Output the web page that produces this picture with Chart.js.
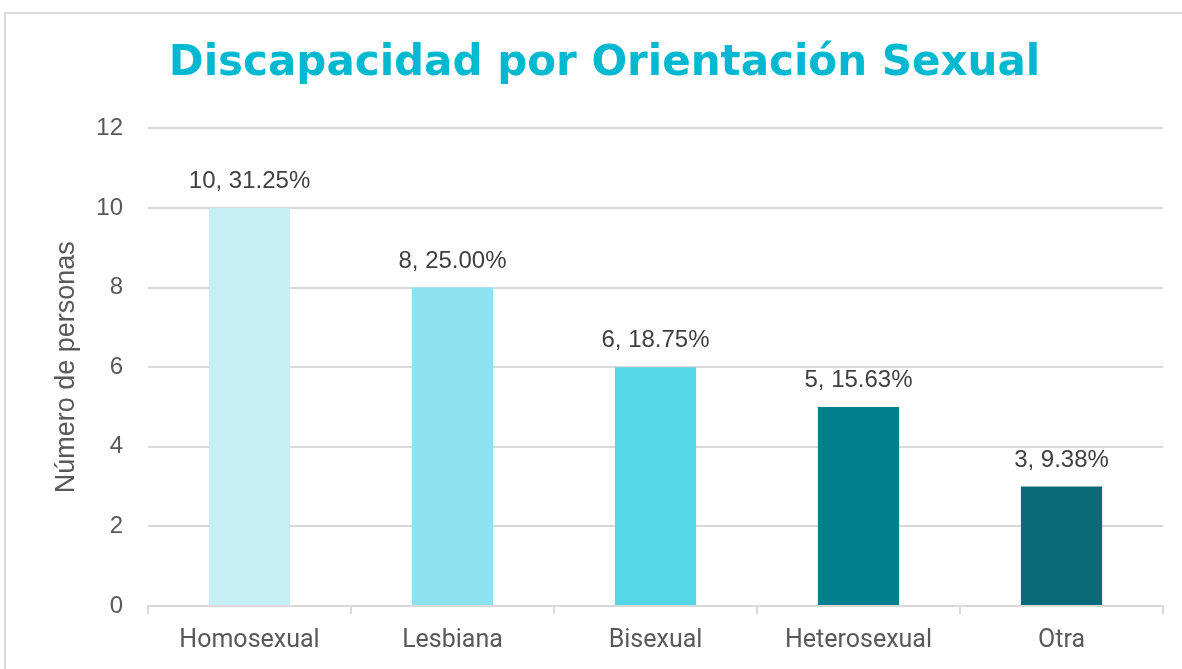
<!DOCTYPE html>
<html>
<head>
<meta charset="utf-8">
<script src="https://cdn.jsdelivr.net/npm/chart.js@4"></script>
<style>
  html, body { margin: 0; padding: 0; background: #fff; }
  #wrap { width: 1182px; height: 669px; position: relative; }
</style>
</head>
<body>
<div id="wrap"><canvas id="myChart" width="1182" height="669"></canvas></div>
<script>
// data
const categories = ['Homosexual', 'Lesbiana', 'Bisexual', 'Heterosexual', 'Otra'];
const personas = [10, 8, 6, 5, 3];
const porcentajes = ['31.25%', '25.00%', '18.75%', '15.63%', '9.38%'];
const barColors = ['#C5EFF5', '#8DE2EF', '#55D6E6', '#047F8E', '#096976'];
const yTicks = [0, 2, 4, 6, 8, 10, 12];

// outer frame like the office chart border
const framePlugin = {
  id: 'frame',
  beforeDraw(chart) {
    const c = chart.ctx;
    c.save();
    c.fillStyle = '#fff';
    c.fillRect(0, 0, chart.width, chart.height);
    c.strokeStyle = '#d9d9d9';
    c.lineWidth = 2;
    c.strokeRect(5, 13, 1200, 700);
    c.restore();
  }
};

// "value, percent" labels above each bar
const labelPlugin = {
  id: 'barLabels',
  afterDatasetsDraw(chart) {
    const c = chart.ctx;
    const meta = chart.getDatasetMeta(0);
    c.save();
    c.font = '24px "Liberation Sans", Arial, sans-serif';
    c.fillStyle = '#404040';
    c.textAlign = 'center';
    c.textBaseline = 'alphabetic';
    meta.data.forEach((bar, i) => {
      c.fillText(personas[i] + ', ' + porcentajes[i], bar.x, bar.y - 20);
    });
    c.restore();
  }
};

const ctx = document.getElementById('myChart').getContext('2d');

new Chart(ctx, {
  type: 'bar',
  data: {
    labels: categories,
    datasets: [{
      label: 'Número de personas',
      data: personas,
      backgroundColor: barColors,
      borderWidth: 0,
      barPercentage: 0.4,
      categoryPercentage: 1
    }]
  },
  options: {
    responsive: false,
    animation: false,
    layout: { padding: { left: 46, right: 19, top: 0, bottom: 0 } },
    plugins: {
      legend: { display: false },
      tooltip: { enabled: false },
      title: {
        display: true,
        text: 'Discapacidad por Orientación Sexual',
        color: '#00B9D1',
        font: { family: '"DejaVu Sans", sans-serif', size: 42, weight: 'bold' },
        padding: { top: 39, bottom: 39 }
      }
    },
    scales: {
      x: {
        afterFit(axis) {
          axis.height = 63;
        },
        grid: {
          offset: true,
          drawOnChartArea: false,
          drawTicks: true,
          tickLength: 8,
          color: '#d9d9d9',
          lineWidth: 2
        },
        border: { color: '#d9d9d9', width: 2 },
        ticks: {
          color: '#595959',
          padding: 12,
          font: { family: '"Liberation Sans Narrow", Roboto, sans-serif', size: 25 }
        }
      },
      y: {
        min: 0,
        max: 12,
        afterBuildTicks(axis) {
          axis.ticks = yTicks.map(v => ({ value: v }));
        },
        afterFit(axis) {
          axis.width = 102;
        },
        grid: { color: '#d9d9d9', lineWidth: 2, drawTicks: false },
        border: { display: false },
        ticks: {
          color: '#595959',
          padding: 25,
          font: { family: '"Liberation Sans", Arial, sans-serif', size: 24 }
        },
        title: {
          display: true,
          text: 'Número de personas',
          color: '#595959',
          font: { family: '"Liberation Sans", Arial, sans-serif', size: 27 },
          padding: { top: 4, bottom: 0 }
        }
      }
    }
  },
  plugins: [framePlugin, labelPlugin]
});
</script>
</body>
</html>
